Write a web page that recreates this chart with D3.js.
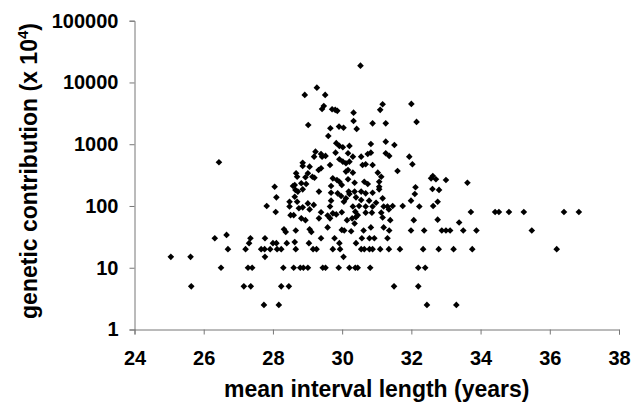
<!DOCTYPE html>
<html>
<head>
<meta charset="utf-8">
<script src="https://cdn.jsdelivr.net/npm/d3@7"></script>
<style>
  body { margin: 0; background: #fff; }
  svg { display: block; }
  .tick text { font-family: Arial, "Liberation Sans", sans-serif; font-weight: bold; font-size: 20px; fill: #000; }
  .title { font-family: Arial, "Liberation Sans", sans-serif; font-weight: bold; font-size: 23px; fill: #000; }
</style>
</head>
<body>
<svg id="chart" width="631" height="403"></svg>
<script>
// mean interval length (years)
const intervalYears = [
  26.44, 28.92, 29.27, 29.02, 29.23, 29.19, 28.86, 28.86, 29.06, 28.67,
  28.70, 29.01, 28.94, 29.20, 29.32, 28.05, 28.58, 28.65, 28.86, 28.96,
  28.10, 28.63, 29.33, 25.05, 25.62, 25.64, 26.32, 26.66, 26.70, 26.50,
  27.21, 27.31, 27.35, 27.28, 27.40, 27.16, 27.36, 27.74, 28.17, 27.82,
  28.08, 27.77, 27.66, 27.76, 27.92, 27.77, 28.00, 28.10, 28.12, 28.24,
  28.32, 28.37, 28.40, 28.30, 28.24, 28.46, 28.60, 28.66, 28.63, 28.66,
  28.48, 28.48, 28.70, 28.51, 28.60, 28.75, 28.82, 28.94, 28.86, 29.01,
  29.06, 29.18, 29.06, 29.11, 29.04, 29.16, 29.26, 28.79, 28.88, 29.01,
  29.33, 30.53, 29.51, 29.47, 29.42, 29.71, 29.80, 29.86, 30.33, 30.33,
  31.17, 31.10, 30.88, 31.26, 29.66, 29.91, 30.04, 30.42, 29.60, 29.83,
  29.92, 30.02, 30.21, 29.81, 29.39, 29.52, 29.42, 29.65, 29.39, 29.14,
  28.63, 28.82, 28.72, 29.68, 29.73, 29.85, 29.92, 29.99, 30.11, 29.68,
  29.87, 29.68, 30.05, 30.11, 30.19, 29.65, 30.83, 31.26, 31.51, 31.26,
  31.36, 31.94, 32.03, 31.60, 30.17, 30.31, 30.55, 30.74, 30.83, 29.92,
  30.02, 30.11, 30.21, 30.59, 30.68, 30.88, 30.17, 30.31, 31.03, 31.13,
  31.07, 30.17, 30.36, 30.64, 30.74, 31.07, 31.07, 32.57, 32.62, 32.71,
  32.12, 32.10, 32.80, 30.55, 30.36, 30.68, 30.88, 30.21, 29.97, 30.40,
  30.55, 30.78, 30.98, 31.17, 31.31, 31.46, 31.75, 31.99, 32.23, 32.76,
  30.31, 30.68, 29.39, 29.58, 29.73, 29.99, 30.14, 30.29, 30.36, 29.99,
  30.26, 29.83, 29.65, 29.58, 29.39, 29.78, 29.73, 29.92, 29.94, 30.40,
  30.04, 29.44, 29.52, 29.90, 30.21, 30.45, 30.06, 30.62, 30.83, 31.20,
  31.36, 31.99, 32.37, 32.88, 33.00, 32.07, 32.76, 31.17, 31.39, 30.40,
  30.45, 30.38, 30.49, 30.68, 30.86, 30.88, 31.13, 31.20, 31.35, 32.63,
  30.57, 30.79, 30.93, 31.31, 30.55, 30.64, 30.79, 30.88, 31.10, 31.35,
  31.67, 32.34, 32.79, 30.38, 30.81, 32.20, 32.40, 33.00, 33.62, 32.61,
  33.72, 34.42, 34.53, 34.82, 35.25, 36.41, 36.84, 33.38, 33.12, 33.50,
  33.88, 35.48, 33.22, 33.76, 36.20, 32.00, 32.15, 31.50, 32.20, 32.45,
  33.30
];

// genetic contribution (x 10^4)
const contribution = [
  510, 6280, 8240, 2050, 757, 629, 502, 444, 433, 339,
  298, 339, 292, 287, 383, 205, 211, 182, 186, 227,
  138, 141, 171, 15, 15, 5, 30, 34, 20, 10,
  20, 25, 30, 10, 10, 5, 5, 2.5, 2.5, 100,
  80, 30, 20, 20, 20, 15, 25, 25, 20, 20,
  42, 38, 25, 10, 5, 5, 10, 20, 26, 40,
  117, 98, 117, 71, 71, 92, 63, 59, 95, 110,
  88, 104, 42, 38, 25, 20, 20, 10, 10, 10,
  63, 18700, 6280, 4160, 3720, 3680, 3600, 3470, 3240, 2380,
  4440, 3600, 2180, 2180, 1810, 1930, 1850, 1770, 1360, 1040,
  940, 892, 940, 730, 695, 646, 629, 461, 408, 298,
  219, 233, 171, 211, 280, 264, 247, 219, 360, 164,
  160, 122, 117, 133, 171, 98, 1010, 1100, 973, 713,
  646, 629, 473, 369, 713, 629, 629, 695, 730, 570,
  522, 491, 522, 461, 473, 461, 383, 346, 346, 298,
  247, 271, 238, 247, 227, 205, 186, 280, 306, 271,
  201, 156, 182, 171, 171, 160, 164, 156, 145, 138,
  125, 122, 113, 133, 98, 100, 100, 122, 98, 117,
  98, 98, 79, 70, 76, 79, 59, 63, 52, 41,
  39, 73, 63, 45, 30, 30, 20, 25, 20, 25,
  15, 10, 10, 10, 10, 10, 40, 40, 45, 45,
  40, 40, 40, 40, 40, 59, 60, 65, 59, 66,
  71, 81, 100, 78, 78, 98, 78, 98, 88, 100,
  30, 30, 30, 30, 20, 20, 20, 20, 20, 20,
  20, 20, 20, 10, 10, 10, 10, 264, 238, 188,
  80, 80, 80, 80, 80, 80, 80, 54, 40, 40,
  40, 40, 20, 20, 20, 4500, 2300, 5, 5, 2.5,
  2.5
];

const yTicks = [1, 10, 100, 1000, 10000, 100000];
const xTicks = [24, 26, 28, 30, 32, 34, 36, 38];

const svg = d3.select("#chart"),
  width = +svg.attr("width"),
  height = +svg.attr("height"),
  margin = { top: 20.7, right: 12, bottom: 73.5, left: 134.5 };

const x = d3
  .scaleLinear()
  .domain([24, 38])
  .range([margin.left, width - margin.right]);

const y = d3
  .scaleLog()
  .domain([1, 100000])
  .range([height - margin.bottom, margin.top]);

const points = intervalYears.map((v, i) => ({ x: v, y: contribution[i] }));

// axes
const xAxis = svg
  .append("g")
  .attr("transform", `translate(0,${height - margin.bottom})`)
  .call(d3.axisBottom(x).tickValues(xTicks).tickFormat(d3.format("d")).tickSize(5).tickPadding(16));

const yAxis = svg
  .append("g")
  .attr("transform", `translate(${margin.left},0)`)
  .call(d3.axisLeft(y).tickValues(yTicks).tickFormat(d3.format("d")).tickSize(5).tickPadding(11));

[xAxis, yAxis].forEach((g) => {
  g.select(".domain").attr("stroke", "#777").attr("stroke-width", 1);
  g.selectAll(".tick line").attr("stroke", "#777");
});

// points (small diamonds)
svg
  .selectAll(".dot")
  .data(points)
  .enter()
  .append("path")
  .attr("class", "dot")
  .attr("d", d3.symbol(d3.symbolSquare, 22))
  .attr("transform", (d) => `translate(${x(d.x)},${y(d.y)}) rotate(45)`)
  .attr("fill", "#000");

// axis titles
svg
  .append("text")
  .attr("class", "title")
  .attr("x", (margin.left + width - margin.right) / 2)
  .attr("y", 397)
  .attr("text-anchor", "middle")
  .text("mean interval length (years)");

const yTitle = svg
  .append("text")
  .attr("class", "title")
  .attr("transform", "translate(37,171) rotate(-90)")
  .attr("text-anchor", "middle");
yTitle.append("tspan").text("genetic contribution (x 10");
yTitle.append("tspan").attr("dy", -9).style("font-size", "15px").text("4");
yTitle.append("tspan").attr("dy", 9).text(")");
</script>
</body>
</html>
